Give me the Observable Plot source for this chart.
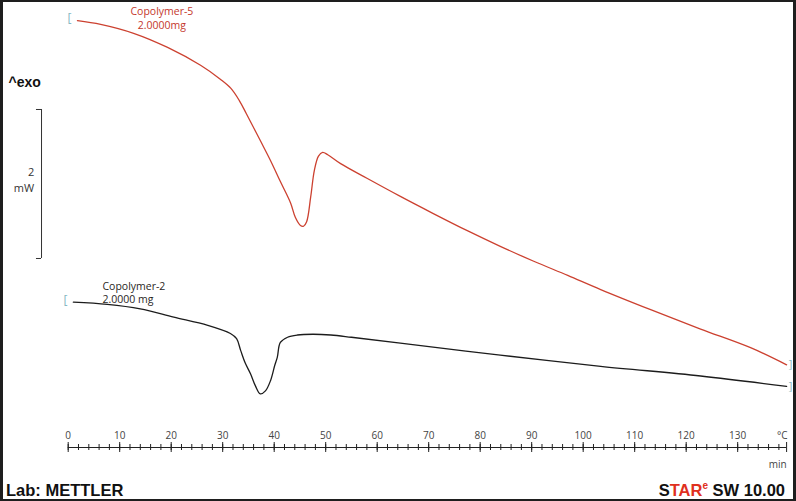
<!DOCTYPE html>
<html><head><meta charset="utf-8">
<script src="https://cdn.jsdelivr.net/npm/d3@7"></script>
<script src="https://cdn.jsdelivr.net/npm/@observablehq/plot@0.6"></script>
<style>
html,body{margin:0;padding:0;background:#fff;}
#frame{position:relative;width:796px;height:501px;box-sizing:border-box;border-style:solid;border-color:#1e1e1e;border-width:2px 3px 2px 3px;overflow:hidden;background:#fff;}
#chart svg{display:block;}
#footer{position:absolute;left:0;top:470px;width:790px;height:27px;font-family:"Liberation Sans",Arial,sans-serif;font-weight:bold;font-size:16.5px;color:#111;}
#lab{position:absolute;left:3px;bottom:-1px;}
#star{position:absolute;right:8px;bottom:-1px;}
#star sup{font-size:10px;line-height:0;vertical-align:7px;}
</style></head>
<body><div id="frame"><div id="chart"></div><div id="footer"><span id="lab">Lab: METTLER</span><span id="star"><span style="color:#111">S</span><span style="color:#e0301e">TAR<sup>e</sup></span> SW 10.00</span></div></div>
<script>
// Copolymer-5 (red) : temperature (°C) and heat flow (mW, relative)
const temperatureC5 = [1.8, 6.3, 12.7, 19.3, 25.7, 29.6, 31.6, 33.2, 34.6, 37.3, 39.3, 41.2, 43.2, 44.1, 45.1, 45.7, 46.3, 47.1, 47.8, 48.6, 49.4, 50.4, 52.9, 58.1, 64.5, 70.9, 77.5, 83.9, 90.4, 97.0, 103.4, 113.1, 122.8, 132.5, 139.5];
const heatFlowC5    = [5.73, 5.68, 5.56, 5.37, 5.13, 4.94, 4.82, 4.66, 4.48, 4.12, 3.85, 3.57, 3.28, 3.09, 2.98, 2.97, 3.03, 3.37, 3.72, 3.91, 3.96, 3.93, 3.81, 3.61, 3.37, 3.14, 2.91, 2.70, 2.50, 2.31, 2.12, 1.85, 1.59, 1.34, 1.11];
// Copolymer-2 (black)
const temperatureC2 = [1.0, 7.6, 14.0, 20.5, 27.1, 31.5, 32.7, 33.5, 34.4, 35.4, 36.4, 37.3, 38.3, 39.3, 40.1, 40.6, 41.2, 42.6, 44.5, 47.5, 51.0, 55.0, 64.5, 83.9, 103.4, 122.8, 139.5];
const heatFlowC2    = [1.95, 1.92, 1.86, 1.75, 1.64, 1.53, 1.46, 1.30, 1.13, 0.99, 0.82, 0.72, 0.76, 0.90, 1.10, 1.21, 1.41, 1.48, 1.51, 1.52, 1.51, 1.48, 1.40, 1.24, 1.09, 0.96, 0.82];

const seriesNames = ["Copolymer-5", "Copolymer-2"];
const sampleMasses = ["2.0000mg", "2.0000 mg"];
const majorTicks = d3.range(0, 131, 10);
const minorTicks = d3.range(0, 139, 2);
const axisEnd = 139.5;
const scaleBar = [2];          // mW
const scaleBarBase = 2.537;    // mW, bottom of the scale bar

const c5 = temperatureC5.map((t, i) => ({t, hf: heatFlowC5[i]}));
const c2 = temperatureC2.map((t, i) => ({t, hf: heatFlowC2[i]}));

const RED = "#cc4130", RED_TXT = "#c4372c", BLK = "#1c1c1c", CYAN = "#86b8c2";
const W = 790, H = 470;

const plot = Plot.plot({
  width: W, height: H,
  marginLeft: 64.7, marginRight: 6.9, marginTop: 0, marginBottom: 25,
  x: {domain: [0, axisEnd], axis: null},
  y: {domain: [0, 445 / 74.5], axis: null},
  style: {fontFamily: "'Open Sans', sans-serif", background: "white", overflow: "visible"},
  marks: [
    // x axis
    Plot.ruleY([0], {stroke: "#222", strokeWidth: 1}),
    Plot.ruleX(minorTicks, {x: d => d, insetTop: 442, insetBottom: -3, stroke: "#222"}),
    Plot.ruleX(majorTicks, {x: d => d, insetTop: 440, insetBottom: -5, stroke: "#222"}),
    Plot.ruleX([axisEnd], {x: d => d, insetTop: 440, insetBottom: -5, stroke: "#222"}),
    Plot.text(majorTicks, {x: d => d, text: d => String(d), frameAnchor: "bottom", dy: -9, lineAnchor: "bottom", fontSize: 10, fill: "#444"}),
    Plot.text(["°C"], {frameAnchor: "bottom-right", text: d => d, dx: 1, dy: -9, lineAnchor: "bottom", textAnchor: "end", fontSize: 10, fill: "#444"}),
    Plot.text(["min"], {frameAnchor: "bottom-right", text: d => d, dy: 20, lineAnchor: "bottom", textAnchor: "end", fontSize: 10, fill: "#444"}),
    // scale bar
    Plot.ruleX(scaleBar, {x: -5.18, y1: scaleBarBase, y2: d => scaleBarBase + d, stroke: "#333"}),
    Plot.ruleY([0, scaleBar[0]], {y: d => scaleBarBase + d, x1: -6.16, x2: -5.18, stroke: "#333"}),
    Plot.text(scaleBar, {x: -6.6, y: 3.61, text: d => `${d}\nmW`, textAnchor: "end", lineHeight: 1.45, fontSize: 11, fill: "#333"}),
    Plot.text(["^exo"], {frameAnchor: "top-left", text: d => d, dx: -59.7, dy: 75, textAnchor: "start", fontWeight: "bold", fontSize: 14, fontFamily: "'Liberation Sans', Arial, sans-serif", fill: "#111"}),
    // curves
    Plot.line(c5, {x: "t", y: "hf", stroke: RED, strokeWidth: 1.3, curve: "catmull-rom"}),
    Plot.line(c2, {x: "t", y: "hf", stroke: BLK, strokeWidth: 1.3, curve: "catmull-rom"}),
    // start/end brackets
    Plot.text([c5[0], c2[0]], {x: "t", y: "hf", text: () => "[", dx: -8, dy: -2, fill: CYAN, fontSize: 12}),
    Plot.text([c5[c5.length - 1], c2[c2.length - 1]], {x: "t", y: "hf", text: () => "]", dx: 4, fill: CYAN, fontSize: 11}),
    // curve labels
    Plot.text([`${seriesNames[0]}\n${sampleMasses[0]}`], {x: 18.2, y: 5.772, text: d => d, lineHeight: 1.33, fontSize: 10.5, fill: RED_TXT}),
    Plot.text([`${seriesNames[1]}\n${sampleMasses[1]}`], {x: 6.66, y: 2.087, text: d => d, textAnchor: "start", lineHeight: 1.24, fontSize: 10.5, fill: "#2a1f24"})
  ]
});
document.getElementById("chart").appendChild(plot);
</script>
</body></html>
